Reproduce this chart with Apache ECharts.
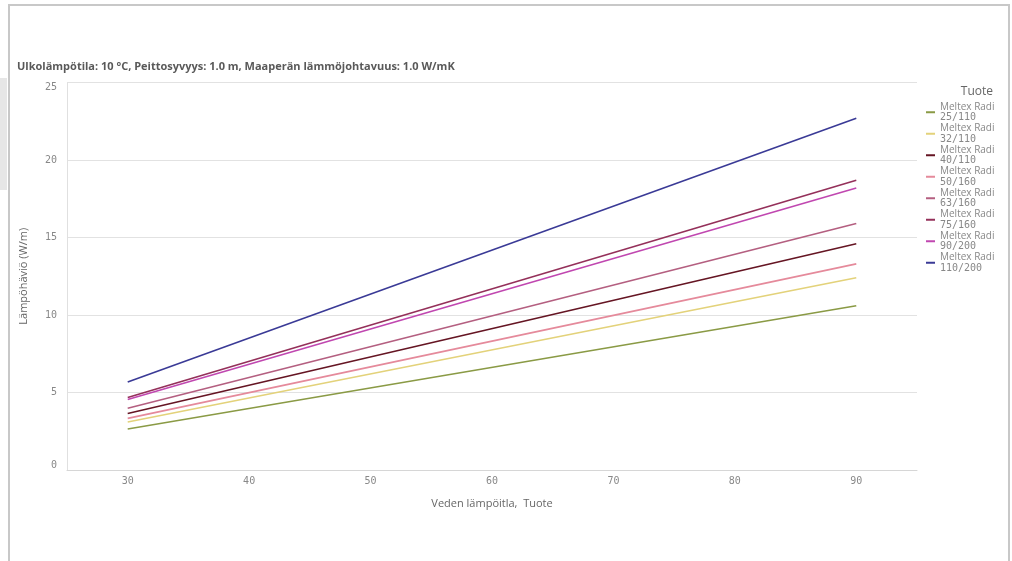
<!DOCTYPE html>
<html>
<head>
<meta charset="utf-8">
<script src="https://cdn.jsdelivr.net/npm/echarts@6/dist/echarts.min.js"></script>
<style>
html,body{margin:0;padding:0;background:#fff;}
#chart{width:1012px;height:561px;}
</style>
</head>
<body>
<div id="chart"></div>
<script>
// Data
var waterTemps = [30, 90];
var productNames = [
  'Meltex Radi 25/110',
  'Meltex Radi 32/110',
  'Meltex Radi 40/110',
  'Meltex Radi 50/160',
  'Meltex Radi 63/160',
  'Meltex Radi 75/160',
  'Meltex Radi 90/200',
  'Meltex Radi 110/200'
];
var loss25_110 = [2.65, 10.6];
var loss32_110 = [3.1, 12.4];
var loss40_110 = [3.65, 14.6];
var loss50_160 = [3.33, 13.3];
var loss63_160 = [3.98, 15.9];
var loss75_160 = [4.68, 18.7];
var loss90_200 = [4.55, 18.2];
var loss110_200 = [5.68, 22.7];
var yTicks = [0, 5, 10, 15, 20, 25];
var xTicks = [30, 40, 50, 60, 70, 80, 90];

var lossSeries = [loss25_110, loss32_110, loss40_110, loss50_160, loss63_160, loss75_160, loss90_200, loss110_200];
var colors = ['#8a9a45', '#e3d27a', '#651523', '#e58a9b', '#b45f80', '#94305a', '#c047b0', '#3a3a96'];

var chart = echarts.init(document.getElementById('chart'));

var series = productNames.map(function (name, i) {
  return {
    name: name,
    type: 'line',
    symbol: 'none',
    lineStyle: { width: 1.6, color: colors[i] },
    itemStyle: { color: colors[i] },
    data: waterTemps.map(function (t, j) { return [t, lossSeries[i][j]]; })
  };
});

var monoFont = 'DejaVu Sans Mono';
var textFont = 'Open Sans';

chart.setOption({
  animation: false,
  backgroundColor: '#fff',
  title: {
    text: 'Ulkolämpötila: 10 °C, Peittosyvyys: 1.0 m, Maaperän lämmöjohtavuus: 1.0 W/mK',
    left: 12,
    top: 56,
    textStyle: { fontFamily: textFont, fontSize: 11, fontWeight: 'bold', color: '#595959' }
  },
  graphic: [
    { type: 'rect', shape: { x: 0, y: 78, width: 7, height: 112 }, style: { fill: '#e6e6e6' }, silent: true },
    { type: 'rect', shape: { x: 8, y: 4, width: 1002, height: 2 }, style: { fill: '#c8c8c8' }, silent: true },
    { type: 'rect', shape: { x: 8, y: 4, width: 2, height: 557 }, style: { fill: '#c8c8c8' }, silent: true },
    { type: 'rect', shape: { x: 1008, y: 4, width: 2, height: 557 }, style: { fill: '#c8c8c8' }, silent: true },
    { type: 'text', right: 19, top: 86, style: { text: 'Tuote', font: '12px ' + textFont, fill: '#666' } }
  ],
  legend: {
    orient: 'vertical',
    left: 926,
    top: 102,
    padding: 0,
    itemWidth: 9,
    itemHeight: 2,
    itemGap: 1,
    icon: 'rect',
    data: productNames,
    formatter: function (name) {
      var parts = name.split(' ');
      var code = parts.pop();
      return '{a|' + parts.join(' ') + '}\n{b|' + code + '}';
    },
    textStyle: {
      color: '#888',
      rich: {
        a: { fontFamily: textFont, fontSize: 10, lineHeight: 10.5, color: '#888' },
        b: { fontFamily: monoFont, fontSize: 10, lineHeight: 10.5, color: '#888' }
      }
    }
  },
  grid: { left: 67, right: 95, top: 82.5, bottom: 91, containLabel: false },
  xAxis: {
    type: 'value',
    min: 25,
    max: 95,
    interval: 5,
    name: 'Veden lämpöitla,  Tuote',
    nameLocation: 'middle',
    nameGap: 28,
    nameTextStyle: { fontFamily: textFont, fontSize: 11, color: '#666' },
    axisLine: { show: true, lineStyle: { color: '#d6d6d6', width: 1 } },
    axisTick: { show: false },
    splitLine: { show: false },
    axisLabel: {
      margin: 6,
      fontFamily: monoFont,
      fontSize: 10,
      color: '#888',
      formatter: function (v) { return xTicks.indexOf(v) >= 0 ? String(v) : ''; }
    }
  },
  yAxis: {
    type: 'value',
    min: 0,
    max: 25,
    interval: 5,
    name: 'Lämpöhäviö (W/m)',
    nameLocation: 'middle',
    nameGap: 38,
    nameTextStyle: { fontFamily: textFont, fontSize: 11, color: '#666' },
    axisLine: { show: true, lineStyle: { color: '#e0e0e0', width: 1 } },
    axisTick: { show: false },
    splitLine: { show: true, lineStyle: { color: '#e2e2e2', width: 1 } },
    axisLabel: {
      margin: 10,
      fontFamily: monoFont,
      fontSize: 10,
      color: '#888',
      verticalAlignMaxLabel: 'top',
      verticalAlignMinLabel: 'bottom',
      formatter: function (v) { return yTicks.indexOf(v) >= 0 ? String(v) : ''; }
    }
  },
  series: series
});
</script>
</body>
</html>
